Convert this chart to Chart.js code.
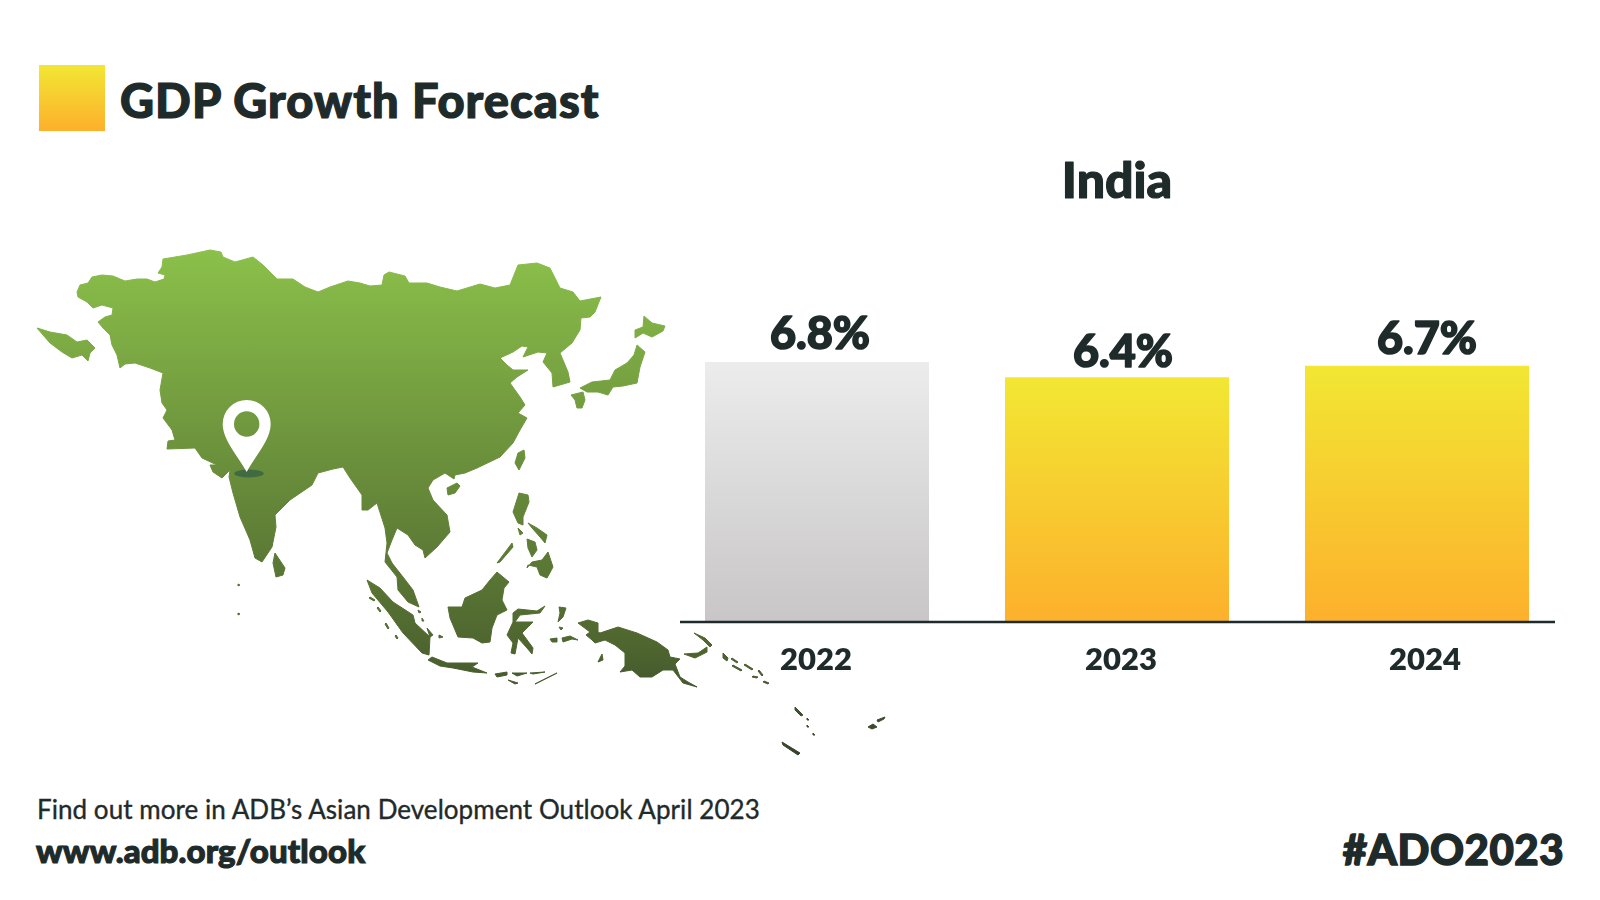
<!DOCTYPE html>
<html><head><meta charset="utf-8">
<style>
html,body{margin:0;padding:0;background:#fff;width:1600px;height:900px;overflow:hidden;font-family:Lato,sans-serif;color:#1f2a2a}
#map,#c{position:absolute;left:0;top:0;width:1600px;height:900px}
.t{position:absolute;white-space:nowrap;line-height:1}
#sw{position:absolute;left:39px;top:65px;width:66px;height:66px;background:linear-gradient(#f2e733,#fdb02c)}
</style>
<script src="https://cdn.jsdelivr.net/npm/chart.js@4"></script>
</head><body>
<svg id="map" viewBox="0 0 1600 900" xmlns="http://www.w3.org/2000/svg">
<defs><linearGradient id="g" gradientUnits="userSpaceOnUse" x1="0" y1="250" x2="0" y2="760">
<stop offset="0" stop-color="#8bc04a"/><stop offset=".78" stop-color="#4e652f"/><stop offset="1" stop-color="#33402a"/></linearGradient></defs>
<path fill="url(#g)" stroke="url(#g)" stroke-width="1" stroke-linejoin="round" d="
M77 292L80 285 88 283 92 277 102 275 113 276 125 281 137 279 147 279 155 282 164 279 165 275 158 273 162 267 163 259 187 255 210 250 221 252 223 257 235 262 253 257 263 265 277 279 293 279 305 287 318 292 330 287 348 281
360 283 370 286 382 285 384 275 389 272 405 276 409 283 427 283 440 287 457 291 480 284 495 288 510 285 518 265 537 263 550 268 560 288 573 292 580 301 601 297 595 312 590 317 581 318 580 330 572 343 560 353
568 372 570 382 553 387 552 373 543 362 547 353 538 352 523 357 528 347 522 346 513 352 500 358 507 365 513 370 528 370 517 377 510 383 520 397 525 405 518 413 527 418 520 430 513 443 500 457 477 468 465 473 455 475 454 479
445 473 433 480 428 488 433 500 447 515 450 532 437 547 425 558 423 550 415 545 408 535 397 528 392 540 387 553 392 563 403 577 413 590 419 607 408 602 398 590 397 577 385 562 387 543 385 528 377 503 368 510 362 510 362 495 350 478 343 467 333 469 318 473 312 485 290 500 275 515 276 527 272 547 262 562 255 558 250 540 240 517 233 493 229 477 230 470 222 478 213 472 210 465 217 465 202 458 195 448
167 449 168 441 175 440 172 430 163 418 167 410 162 403 160 390 163 373 150 368 135 363 125 364 120 368 117 355 112 345 110 335 103 328 98 322 105 317 112 315 113 308 102 305 93 308 87 302 78 297Z
M37 328L50 332 67 335 77 342 87 340 95 348 90 353 88 361 82 355 72 358 62 352 50 343 43 335Z
M644 316L652 323 665 326 663 331 652 337 643 333 635 338 635 330 643 327Z
M637 345L645 352 640 367 637 383 623 386 613 387 608 395 598 392 587 392 580 388 592 382 610 380 615 370 627 363 634 355Z
M571 395L583 392 585 400 582 408 577 408 575 400Z
M524 450L525 458 519 470 515 463 518 453Z
M447 488L457 483 460 486 455 493 448 495Z
M275 553L285 568 283 575 276 577 273 563Z
M367 580L380 588 393 602 413 615 415 623 430 637 429 655 422 653 403 633 388 612 372 593Z
M497 572L509 582 504 588 502 600 507 610 497 615 492 628 490 642 482 643 473 638 458 637 450 618 448 607 462 607 465 598 482 590 490 580Z
M518 609L537 611 545 606 540 613 520 615 515 622 533 622 527 628 522 633 533 648 532 654 527 648 518 638 515 654 511 653 513 643 507 635 513 622 513 613Z
M428 660L432 657 447 663 478 663 472 667 487 673 473 672 453 668 440 666Z
M495 674L507 672 507 675 497 677Z M512 673L527 673 517 676Z M530 673L545 672 533 674Z M508 680L518 683 515 684Z M535 684L557 673 543 680Z
M427 628L433 635 430 637Z M439 635L443 637 439 638Z
M519 493L528 495 529 502 523 517 523 525 518 523 513 512Z M518 528L523 533 520 535Z
M528 523L537 528 547 535 545 543 540 537 532 528Z M527 539L535 542 537 550 532 557 528 548Z
M527 568L532 562 542 560 548 552 553 567 547 578 540 575 537 567 528 565Z
M497 563L512 543 513 547 500 562Z
M559 607L566 608 563 617 558 622 560 613Z M559 627L563 628 561 630Z
M562 638L570 636 578 640 572 639 563 642Z M550 639L557 638 557 642 552 642Z
M578 623L588 620 598 623 598 632 600 633 618 627 637 633 657 642 668 650 670 657 680 659 675 664 680 677 688 682 697 687 683 683 673 670 663 670 652 677 640 677 632 670 620 672 625 666 625 653 615 645 605 640 595 643 592 640 586 635 590 632Z
M598 662L602 654 603 660Z
M684 654L698 653 707 647 707 652 695 658Z
M694 633L705 638 712 645 710 647 703 640Z
M723 653L728 658 727 661 723 658Z
M732 658L738 662 737 663 731 659Z M745 664L753 669 752 670 744 665Z M733 665L742 670 741 671 732 666Z M759 670L763 675 762 676 758 671Z M753 676L758 677 757 678 752 677Z M764 681L769 683 768 684 763 682Z
M795 707L803 715 801 716 795 710Z M807 718l2 2-2 0Z M807 725l2 2-2 0Z M813 733l2 2-2 0Z
M782 742L800 753 798 755 783 745Z
M868 727L873 724 877 727 872 729Z M877 720L885 717 884 719 878 722Z
M238 584l2 1-2 1Z M238 613l2 1-2 1Z
M418 610l3 2-2 1Z M422 618l2 3-2 0Z
M370 597l5 3-1 1-5-3Z M378 607l3 4-1 1-3-4Z M386 623l3 5-1 1-3-5Z M396 635l2 3-1 1-2-3Z
"/>
<ellipse cx="249" cy="473.5" rx="14.7" ry="4" fill="#3f6a42"/>
<path fill="#fff" fill-rule="evenodd" d="M246.7 472C238 456 222.7 440 222.7 424A24 24 0 0 1 270.7 424C270.7 440 255 456 246.7 472ZM246.7 411.3A12.7 12.7 0 1 0 246.7 436.7A12.7 12.7 0 1 0 246.7 411.3Z"/>
</svg>
<div id="sw"></div>
<div class="t" style="left:120px;top:77px;font-size:47px;font-weight:900;letter-spacing:1.05px;-webkit-text-stroke:1.2px #1f2a2a">GDP Growth Forecast</div>
<div class="t" style="left:37px;top:796px;font-size:26px;font-weight:400;letter-spacing:.05px;-webkit-text-stroke:.35px #1f2a2a">Find out more in ADB’s Asian Development Outlook April 2023</div>
<div class="t" style="left:36px;top:834px;font-size:33px;font-weight:900;letter-spacing:.1px;-webkit-text-stroke:1.1px #1f2a2a">www.adb.org/outlook</div>
<div class="t" style="right:36px;top:828px;font-size:42px;font-weight:900;letter-spacing:.5px;-webkit-text-stroke:1.4px #1f2a2a">#ADO2023</div>
<canvas id="c" width="1600" height="900"></canvas>
<script>
const categories = ['2022', '2023', '2024'];
const growth = [6.8, 6.4, 6.7];
const valueLabels = ['6.8%', '6.4%', '6.7%'];
const chartTitle = 'India';
const ink = '#1f2a2a';
const gradientStops = [['#ececec', '#c8c6c7'], ['#f2e733', '#fdb02c'], ['#f2e733', '#fdb02c']];
const labelNudge = [3, 6, 10];
const labelRise = [13, 10, 12];
const tickNudge = [-1, 4, 8];

const decorate = {
  id: 'decorate',
  beforeDraw(chart) {
    const x = chart.scales.x;
    x.getLabelItems(chart.chartArea).forEach((it, i) => {
      it.options.translation[0] = x.getPixelForTick(i) + tickNudge[i];
    });
  },
  afterDatasetsDraw(chart) {
    const { ctx, chartArea, scales, titleBlock } = chart;
    ctx.save();
    ctx.strokeStyle = ink;
    ctx.lineWidth = 2.5;
    ctx.beginPath();
    ctx.moveTo(chartArea.left + 13, scales.y.getPixelForValue(0));
    ctx.lineTo(chartArea.right - 12, scales.y.getPixelForValue(0));
    ctx.stroke();
    ctx.fillStyle = ink;
    ctx.lineJoin = 'round';
    ctx.lineWidth = 1.6;
    ctx.font = '900 45px Lato';
    ctx.textAlign = 'center';
    ctx.textBaseline = 'alphabetic';
    chart.getDatasetMeta(0).data.forEach((bar, i) => {
      ctx.fillText(valueLabels[i], bar.x + labelNudge[i], bar.y - labelRise[i]);
      ctx.strokeText(valueLabels[i], bar.x + labelNudge[i], bar.y - labelRise[i]);
    });
    ctx.font = '900 50px Lato';
    ctx.textBaseline = 'middle';
    ctx.lineWidth = 1.2;
    ctx.strokeText(chartTitle, (chartArea.left + chartArea.right) / 2, titleBlock.top + 30);
    ctx.restore();
  }
};

new Chart(document.getElementById('c'), {
  type: 'bar',
  data: {
    labels: categories,
    datasets: [{
      data: growth,
      barPercentage: 0.7467,
      categoryPercentage: 1,
      borderWidth: 0,
      backgroundColor(c) {
        const chart = c.chart;
        if (!chart.chartArea || c.raw === undefined) return gradientStops[1][0];
        const g = chart.ctx.createLinearGradient(0, chart.scales.y.getPixelForValue(c.raw), 0, chart.scales.y.getPixelForValue(0));
        g.addColorStop(0, gradientStops[c.dataIndex][0]);
        g.addColorStop(1, gradientStops[c.dataIndex][1]);
        return g;
      }
    }]
  },
  plugins: [decorate],
  options: {
    responsive: false,
    animation: false,
    layout: { padding: { left: 667, right: 33, top: 152, bottom: 218 } },
    plugins: {
      legend: { display: false },
      tooltip: { enabled: false },
      title: {
        display: true, text: chartTitle, color: ink,
        font: { family: 'Lato', size: 50, weight: '900' },
        padding: { top: 0, bottom: 104 }
      }
    },
    scales: {
      x: {
        grid: { display: false, drawTicks: false },
        border: { display: false },
        ticks: { color: ink, font: { family: 'Lato', size: 31, weight: '800' }, padding: 19 },
        afterFit(s) { s.height = 60; }
      },
      y: { display: false, min: 0, max: 8 }
    }
  }
});
</script>
</body></html>
